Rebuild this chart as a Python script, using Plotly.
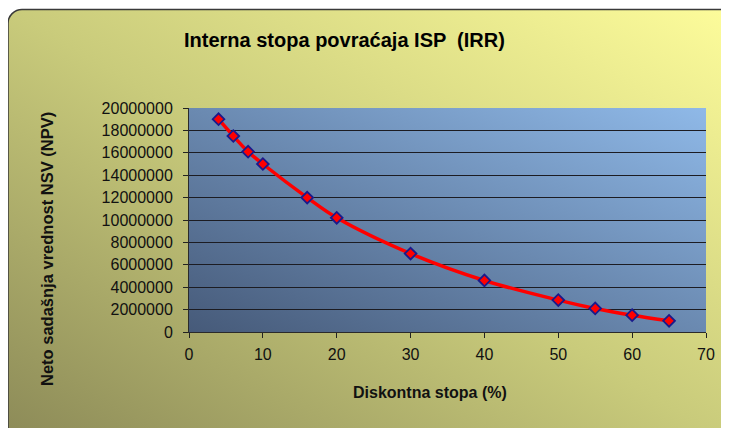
import base64
import plotly.graph_objects as go

# ---- data ----
rates = [4, 6, 8, 10, 16, 20, 30, 40, 50, 55, 60, 65]
npv = [19.0e6, 17.5e6, 16.1e6, 15.0e6, 12.0e6, 10.2e6, 7.0e6, 4.6e6, 2.85e6, 2.1e6, 1.5e6, 1.0e6]
x_ticks = [0, 10, 20, 30, 40, 50, 60, 70]
y_ticks = [0, 2e6, 4e6, 6e6, 8e6, 10e6, 12e6, 14e6, 16e6, 18e6, 20e6]
y_grid = [2e6, 4e6, 6e6, 8e6, 10e6, 12e6, 14e6, 16e6, 18e6]

title_text = "Interna stopa povraćaja ISP  (IRR)"
x_title = "Diskontna stopa (%)"
y_title = "Neto sadašnja vrednost NSV (NPV)"

# ---- layout geometry (page has an 8px body margin) ----
OFF = 8
W, H = 729 - OFF, 428 - OFF
L, R, T, B = 189 - OFF, 23, 108 - OFF, 96
pw, ph = W - L - R, H - T - B

def px_x(page_x):
    return (page_x - OFF - L) / pw

def px_y(page_y):
    return 1 - (page_y - OFF - T) / ph

svg = f'''<svg xmlns="http://www.w3.org/2000/svg" width="{W}" height="{H}" viewBox="0 0 {W} {H}" preserveAspectRatio="none">
<defs>
<linearGradient id="bg" x1="0" y1="1" x2="1" y2="0">
<stop offset="0" stop-color="#898756"/>
<stop offset="0.5" stop-color="#c9cb7b"/>
<stop offset="1" stop-color="#fffe9c"/>
</linearGradient>
<linearGradient id="pa" x1="0" y1="1" x2="1" y2="0">
<stop offset="0" stop-color="#465a79"/>
<stop offset="1" stop-color="#8fb9e8"/>
</linearGradient>
</defs>
<rect x="0" y="1.5" width="750" height="450" rx="14" fill="url(#bg)" stroke="#3a3a3a" stroke-width="1.5"/>
<rect x="{L}" y="{T}" width="{pw}" height="{ph}" fill="url(#pa)"/>
</svg>'''
src = "data:image/svg+xml;base64," + base64.b64encode(svg.encode()).decode()

FONT = "Liberation Sans, Arial, sans-serif"
tick_font = dict(size=16, family=FONT, color="#111111")

fig = go.Figure()
fig.add_trace(go.Scatter(
    x=rates, y=npv, mode="lines+markers",
    line=dict(color="#ff0000", width=3.5, shape="spline", smoothing=1),
    marker=dict(symbol="diamond", size=9, color="#ff0000",
                line=dict(color="#1a1a8c", width=1.8)),
    hoverinfo="x+y", showlegend=False,
))
# invisible helper trace so the label axis is drawn
fig.add_trace(go.Scatter(x=[None], y=[None], yaxis="y2", showlegend=False, hoverinfo="skip"))

fig.update_layout(
    width=W, height=H,
    margin=dict(l=L, r=R, t=T, b=B),
    paper_bgcolor="white",
    plot_bgcolor="rgba(0,0,0,0)",
    font=dict(family=FONT, color="#111111", size=16),
    images=[dict(source=src, xref="paper", yref="paper",
                 x=-L / pw, y=1 + T / ph, sizex=W / pw, sizey=H / ph,
                 xanchor="left", yanchor="top", sizing="stretch", layer="below")],
    xaxis=dict(range=[0, 70], tickvals=x_ticks, ticks="outside", ticklen=5,
               tickcolor="#222222", showline=True, linecolor="#2a2a2a", linewidth=1,
               showgrid=False, zeroline=False, ticklabelstandoff=3,
               tickfont=tick_font),
    yaxis=dict(range=[0, 20e6], tickvals=y_grid, showticklabels=False, ticks="",
               showline=False, showgrid=True, gridcolor="#1c1c22", gridwidth=1,
               zeroline=False),
    yaxis2=dict(range=[0, 20e6], overlaying="y", side="left", tickvals=y_ticks,
                tickformat="d", ticks="outside", ticklen=5, tickcolor="#222222",
                showline=True, linecolor="#2a2a2a", linewidth=1, showgrid=False,
                zeroline=False, ticklabelstandoff=7, tickfont=tick_font),
    annotations=[
        dict(text=f"<b>{title_text}</b>", xref="paper", yref="paper",
             x=px_x(344), y=px_y(40), xanchor="center", yanchor="middle",
             showarrow=False, font=dict(size=20, family=FONT, color="#000000")),
        dict(text=f"<b>{x_title}</b>", xref="paper", yref="paper",
             x=px_x(430), y=px_y(392), xanchor="center", yanchor="middle",
             showarrow=False, font=dict(size=16, family=FONT, color="#111111")),
        dict(text=f"<b>{y_title}</b>", xref="paper", yref="paper",
             x=px_x(47), y=px_y(249), xanchor="center", yanchor="middle",
             textangle=-90, showarrow=False, font=dict(size=16.5, family=FONT, color="#111111")),
    ],
)

fig.write_html("out.html")
